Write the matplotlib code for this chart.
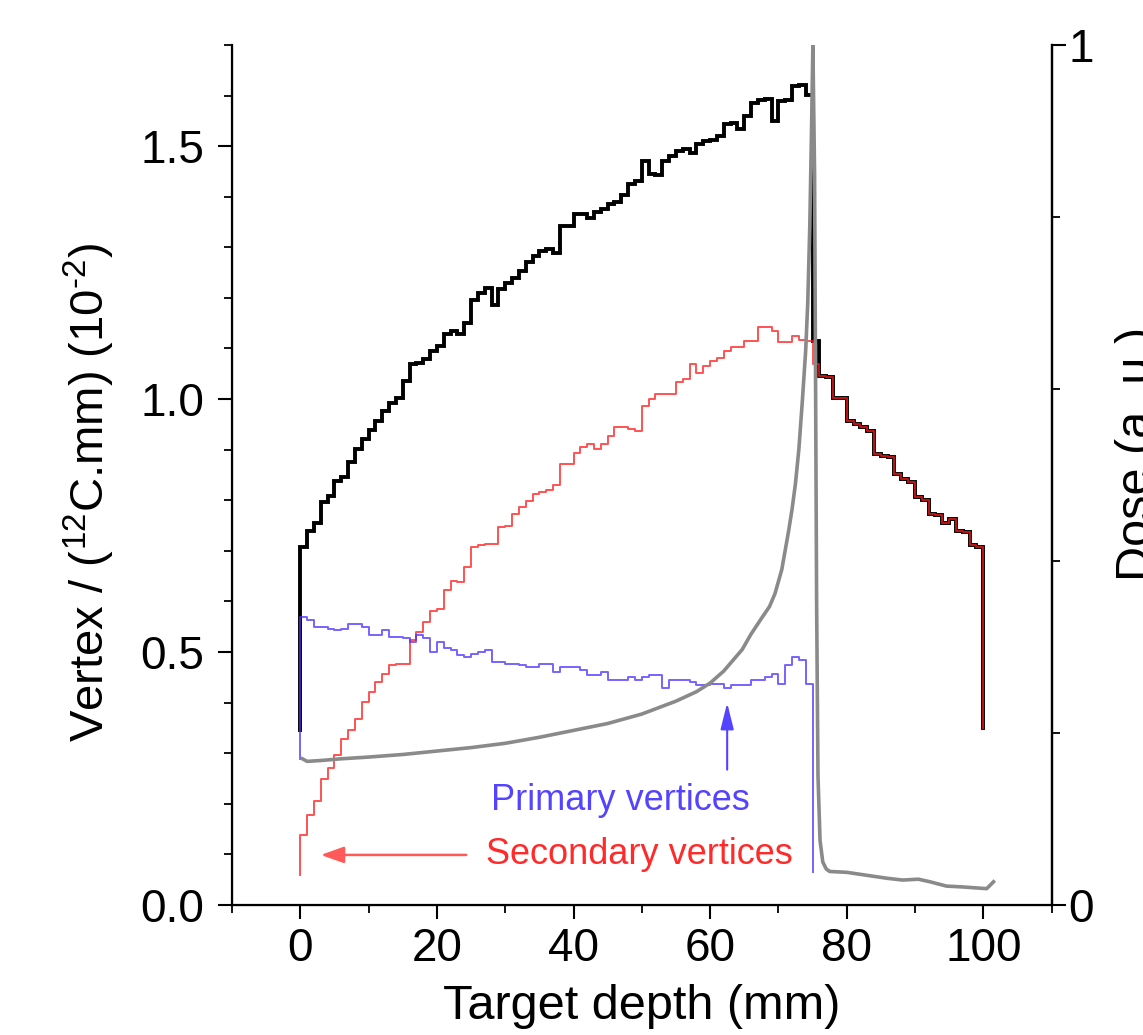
import numpy as np
import matplotlib
matplotlib.use("Agg")
import matplotlib.pyplot as plt
from matplotlib.ticker import MultipleLocator, FixedLocator

plt.rcParams['font.family'] = ['Liberation Sans', 'DejaVu Sans']
plt.rcParams['mathtext.fontset'] = 'custom'
plt.rcParams['mathtext.rm'] = 'Liberation Sans'
plt.rcParams['mathtext.it'] = 'Liberation Sans:italic'

# depth bins (mm), 1 mm wide
edges_all = np.arange(0, 101)
edges_prim = np.arange(0, 76)

# total vertices per bin (black)
total = [0.707, 0.740, 0.756, 0.796, 0.809, 0.839, 0.845, 0.875, 0.901, 0.921,
         0.938, 0.957, 0.977, 0.993, 1.003, 1.036, 1.069, 1.072, 1.079, 1.095,
         1.105, 1.128, 1.135, 1.128, 1.150, 1.195, 1.210, 1.220, 1.185, 1.218,
         1.230, 1.240, 1.253, 1.270, 1.282, 1.292, 1.297, 1.288, 1.342, 1.342,
         1.365, 1.366, 1.357, 1.370, 1.375, 1.385, 1.390, 1.404, 1.425, 1.432,
         1.470, 1.445, 1.442, 1.470, 1.480, 1.490, 1.495, 1.487, 1.505, 1.510,
         1.512, 1.520, 1.543, 1.545, 1.533, 1.560, 1.585, 1.592, 1.593, 1.549,
         1.589, 1.591, 1.618, 1.620, 1.602, 1.115, 1.046, 1.043, 1.003, 1.003,
         0.957, 0.950, 0.944, 0.936, 0.892, 0.887, 0.885, 0.852, 0.842, 0.836,
         0.806, 0.800, 0.773, 0.770, 0.756, 0.763, 0.740, 0.738, 0.712, 0.708]
total_start, total_end = 0.345, 0.349

# secondary vertices per bin (red)
secondary = [0.138, 0.178, 0.205, 0.250, 0.270, 0.296, 0.329, 0.345, 0.368, 0.401,
             0.421, 0.441, 0.457, 0.474, 0.477, 0.477, 0.523, 0.540, 0.559, 0.582,
             0.585, 0.622, 0.641, 0.638, 0.668, 0.708, 0.711, 0.714, 0.714, 0.747,
             0.750, 0.773, 0.786, 0.799, 0.812, 0.816, 0.820, 0.830, 0.872, 0.872,
             0.894, 0.905, 0.911, 0.901, 0.911, 0.927, 0.945, 0.945, 0.940, 0.937,
             0.987, 1.000, 1.011, 1.011, 1.011, 1.033, 1.040, 1.069, 1.051, 1.066,
             1.076, 1.082, 1.095, 1.102, 1.102, 1.115, 1.115, 1.143, 1.143, 1.135,
             1.112, 1.112, 1.125, 1.117, 1.115, 1.069, 1.046, 1.043, 1.003, 1.003,
             0.957, 0.950, 0.944, 0.936, 0.892, 0.887, 0.885, 0.852, 0.842, 0.836,
             0.806, 0.800, 0.773, 0.770, 0.756, 0.763, 0.740, 0.738, 0.712, 0.708]
secondary_start, secondary_end = 0.059, 0.349

# primary vertices per bin (blue)
primary = [0.569, 0.563, 0.550, 0.550, 0.546, 0.543, 0.545, 0.556, 0.555, 0.550,
           0.534, 0.534, 0.543, 0.530, 0.530, 0.528, 0.520, 0.534, 0.527, 0.500,
           0.520, 0.507, 0.504, 0.494, 0.490, 0.497, 0.500, 0.504, 0.480, 0.480,
           0.477, 0.477, 0.474, 0.470, 0.470, 0.477, 0.477, 0.460, 0.470, 0.470,
           0.470, 0.465, 0.454, 0.454, 0.461, 0.444, 0.444, 0.444, 0.450, 0.444,
           0.450, 0.454, 0.454, 0.428, 0.444, 0.444, 0.444, 0.440, 0.434, 0.434,
           0.437, 0.437, 0.428, 0.434, 0.434, 0.434, 0.444, 0.444, 0.450, 0.457,
           0.437, 0.474, 0.490, 0.484, 0.437]
primary_start, primary_end = 0.289, 0.065

# dose curve (right axis, a.u.)
dose_depth = [0.3, 1, 3, 6, 10, 15, 20, 25, 30, 35, 40, 45, 50, 55, 58, 60, 62,
              64.7, 66, 67.5, 68.7, 69.5, 70.5, 71.5, 72, 72.5, 73, 73.5, 74.0,
              74.3, 74.6, 74.85, 75.05, 75.3, 75.45, 75.6, 75.8, 76.1, 76.5,
              77.0, 77.5, 80, 83.4, 86, 88.2, 90.5, 92.2, 94.6, 97, 100.5, 101.5]
dose = [0.170, 0.167, 0.168, 0.170, 0.172, 0.175, 0.179, 0.183, 0.188, 0.195,
        0.203, 0.211, 0.222, 0.237, 0.248, 0.258, 0.272, 0.297, 0.315, 0.333,
        0.347, 0.362, 0.390, 0.435, 0.460, 0.490, 0.530, 0.585, 0.645, 0.700,
        0.790, 0.900, 1.000, 0.850, 0.600, 0.350, 0.150, 0.075, 0.050, 0.042,
        0.039, 0.038, 0.034, 0.031, 0.029, 0.030, 0.027, 0.022, 0.021, 0.019,
        0.027]


def stair(edges, vals, start, end):
    xs = np.r_[edges[0], edges]
    ys = np.r_[start, vals, end]
    return xs, ys


fig = plt.figure(figsize=(11.43, 10.35), dpi=100)
ax = fig.add_axes([0.203, 0.1256, 0.717, 0.831])

black_col = 'black'
red_col = '#ff1a1a'
blue_col = '#4a30ff'

x, y = stair(edges_all, total, total_start, total_end)
ax.step(x, y, where='post', color=black_col, lw=2.8, solid_joinstyle='miter')
x, y = stair(edges_all, secondary, secondary_start, secondary_end)
ax.step(x, y, where='post', color=red_col, lw=1.4, alpha=0.75)
x, y = stair(edges_prim, primary, primary_start, primary_end)
ax.step(x, y, where='post', color=blue_col, lw=1.4, alpha=0.75)

ax.set_xlim(-10, 110)
ax.set_ylim(0, 1.7)
ax.xaxis.set_major_locator(MultipleLocator(20))
ax.xaxis.set_minor_locator(MultipleLocator(10))
ax.yaxis.set_major_locator(MultipleLocator(0.5))
ax.yaxis.set_minor_locator(MultipleLocator(0.1))
ax.yaxis.set_major_formatter(plt.FormatStrFormatter('%.1f'))

for s in ['left', 'bottom', 'right']:
    ax.spines[s].set_linewidth(1.6)
ax.spines['top'].set_visible(False)
ax.tick_params(which='major', direction='out', length=10, width=1.5, labelsize=33)
ax.tick_params(axis='x', which='major', pad=6)
ax.tick_params(axis='y', which='major', pad=10)
ax.tick_params(which='minor', direction='out', length=6, width=1.3)

ax.set_xlabel('Target depth (mm)', fontsize=35)
ax.set_ylabel(r'Vertex / ($^{12}$C.mm) (10$^{\text{-2}}$)', fontsize=34)
ax.xaxis.set_label_coords(0.5, -0.092)
ax.yaxis.set_label_coords(-0.14, 0.48)

# annotations
ax.text(27.9, 0.207, 'Primary vertices', color='#5544ff', fontsize=26, va='center')
ax.text(27.2, 0.099, 'Secondary vertices', color='#ff2a2a', fontsize=26, va='center')
ax.annotate('', xy=(62.5, 0.405), xytext=(62.5, 0.262),
            arrowprops=dict(arrowstyle='-|>,head_length=0.8,head_width=0.2',
                            color='#5544ff', lw=1.5, mutation_scale=20))
ax.annotate('', xy=(2.6, 0.099), xytext=(24.7, 0.099),
            arrowprops=dict(arrowstyle='-|>,head_length=0.7,head_width=0.25',
                            color='#ff5a5a', lw=1.8, mutation_scale=20))

# dose on right axis
ax2 = ax.twinx()
ax2.plot(dose_depth, dose, color='#8a8a8a', lw=2.6)
ax2.set_ylim(0, 1)
ax2.yaxis.set_major_locator(FixedLocator([0, 1]))
ax2.yaxis.set_minor_locator(MultipleLocator(0.2))
ax2.yaxis.set_major_formatter(plt.FormatStrFormatter('%d'))
ax2.spines['top'].set_visible(False)
ax2.spines['right'].set_linewidth(1.6)
ax2.tick_params(which='major', direction='out', length=10, width=1.5, labelsize=33, pad=2)
ax2.tick_params(which='minor', direction='out', length=6, width=1.3)
ax2.set_ylabel('Dose (a. u.)', fontsize=35)
ax2.yaxis.set_label_coords(1.077, 0.525)

fig.savefig('out.png', dpi=100)
plt.close(fig)
